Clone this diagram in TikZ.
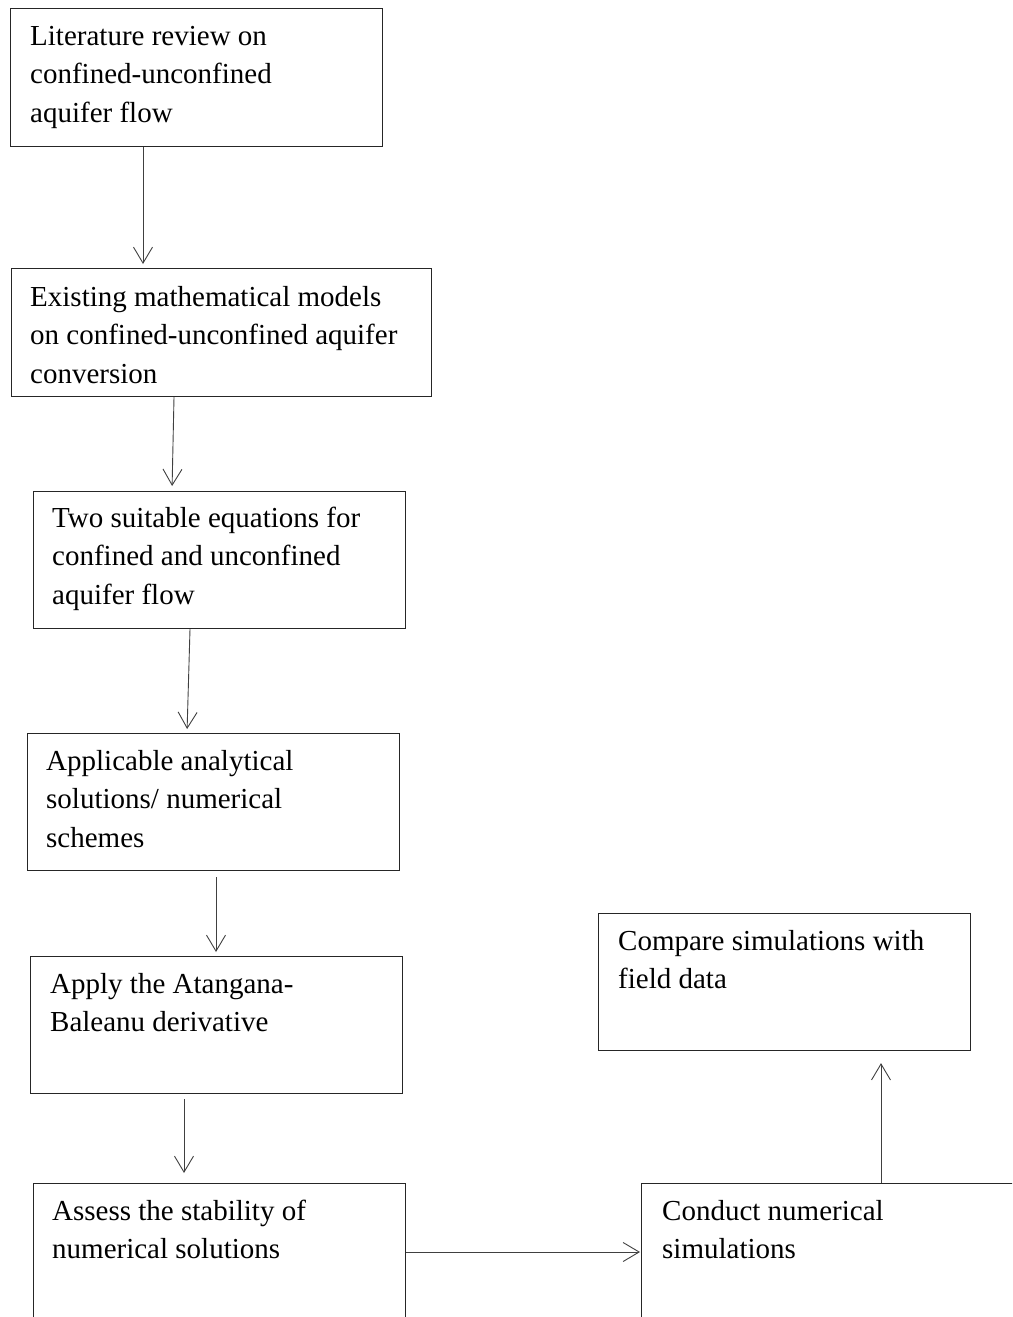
\documentclass[tikz,border=0pt]{standalone}
\usepackage{fontspec}
\setmainfont{Liberation Serif}
\usetikzlibrary{arrows.meta,calc}
\newcommand{\firststrut}{\rule{0pt}{23pt}}
\begin{document}
\begin{tikzpicture}[x=1pt,y=-1pt,
  box/.style={draw=black!85,line width=1.1pt,rectangle,anchor=north west,inner sep=0pt},
  txt/.style={anchor=north west,inner sep=0pt,align=left,font=\fontsize{29}{38.5}\selectfont},
  arr/.style={draw=black!75,line width=0.9pt,-{Straight Barb[length=16pt,width=19pt,line width=0.9pt]}}]
\path[use as bounding box] (0,0) rectangle (1012,1317);
\clip (0,0) rectangle (1012,1317);
\node[box,minimum width=372pt,minimum height=138pt] (b1) at (10,8) {};
\node[box,minimum width=420pt,minimum height=128pt] (b2) at (11,268) {};
\node[box,minimum width=372pt,minimum height=137pt] (b3) at (33,491) {};
\node[box,minimum width=372pt,minimum height=137pt] (b4) at (27,733) {};
\node[box,minimum width=372pt,minimum height=137pt] (b5) at (30,956) {};
\node[box,minimum width=372pt,minimum height=170pt] (b6) at (33,1183) {};
\node[box,minimum width=372pt,minimum height=170pt] (b7) at (641,1183) {};
\node[box,minimum width=372pt,minimum height=137pt] (b8) at (598,913) {};
\node[txt] (t1) at ($(b1.north west)+(20,14)$) {\firststrut Literature review on\\confined-unconfined\\aquifer flow};
\node[txt] (t2) at ($(b2.north west)+(19,15)$) {\firststrut Existing mathematical models\\on confined-unconfined aquifer\\conversion};
\node[txt] (t3) at ($(b3.north west)+(19,13)$) {\firststrut Two suitable equations for\\confined and unconfined\\aquifer flow};
\node[txt] (t4) at ($(b4.north west)+(19,14)$) {\firststrut Applicable analytical\\solutions/ numerical\\schemes};
\node[txt] (t5) at ($(b5.north west)+(20,14)$) {\firststrut Apply the Atangana-\\Baleanu derivative};
\node[txt] (t6) at ($(b6.north west)+(19,14)$) {\firststrut Assess the stability of\\numerical solutions};
\node[txt] (t7) at ($(b7.north west)+(21,14)$) {\firststrut Conduct numerical\\simulations};
\node[txt] (t8) at ($(b8.north west)+(20,14)$) {\firststrut Compare simulations with\\field data};
\draw[arr,shorten >=4pt] ($(b1.south west)+(133,0)$) -- ($(b2.north west)+(132,0)$);
\draw[arr,shorten >=5pt] ($(b2.south west)+(163,0)$) -- ($(b3.north west)+(139,0)$);
\draw[arr,shorten >=4pt] ($(b3.south west)+(157,0)$) -- ($(b4.north west)+(160,0)$);
\draw[arr,shorten >=4pt] ($(b4.south west)+(189,6)$) -- ($(b5.north west)+(186,0)$);
\draw[arr,shorten >=10pt] ($(b5.south west)+(154,5)$) -- ($(b6.north west)+(151,0)$);
\draw[arr,shorten >=1pt] ($(b6.north east)+(0,69)$) -- ($(b7.north west)+(0,69)$);
\draw[arr,shorten >=12pt] ($(b7.north west)+(240,0)$) -- ($(b8.south west)+(283,0)$);
\end{tikzpicture}
\end{document}
